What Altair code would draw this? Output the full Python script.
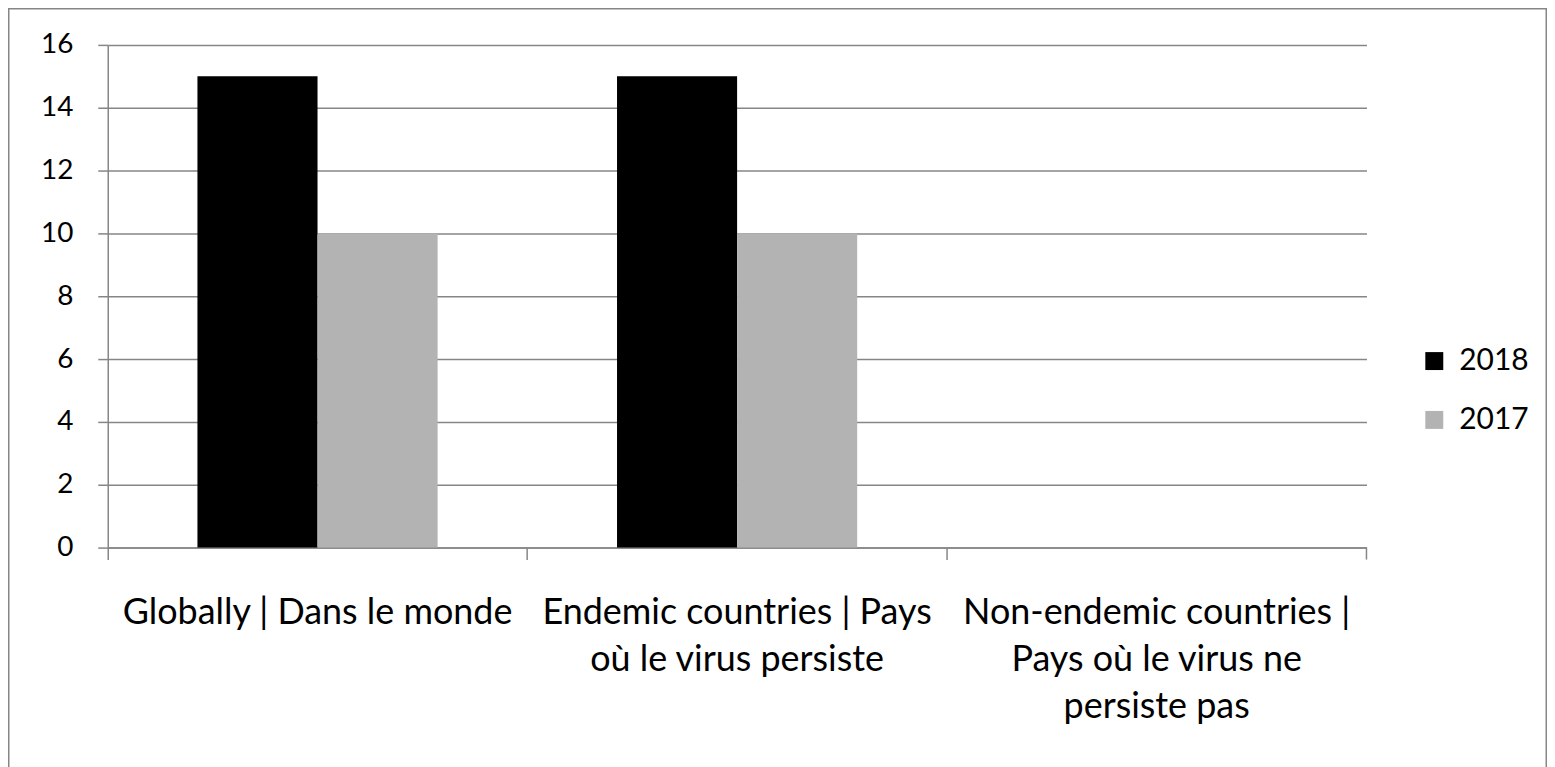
import json
import altair as alt
import pandas as pd

categories = [
    "Globally | Dans le monde",
    "Endemic countries | Pays où le virus persiste",
    "Non-endemic countries | Pays où le virus ne persiste pas",
]
label_lines = [
    ["Globally | Dans le monde"],
    ["Endemic countries | Pays", "où le virus persiste"],
    ["Non-endemic countries |", "Pays où le virus ne", "persiste pas"],
]
series = ["2018", "2017"]
values_2018 = [15, 15, 0]
values_2017 = [10, 10, 0]
colors = ["#000000", "#b3b3b3"]
y_ticks = [0, 2, 4, 6, 8, 10, 12, 14, 16]

rows = []
for c, a, b in zip(categories, values_2018, values_2017):
    rows.append({"category": c, "year": "2018", "value": a})
    rows.append({"category": c, "year": "2017", "value": b})
df = pd.DataFrame(rows)

W, H = 1262, 504
FONT = "Lato"
GRID = "#868686"
label_expr = json.dumps(dict(zip(categories, label_lines)), ensure_ascii=False) + "[datum.label]"

bars = alt.Chart(df).mark_bar().encode(
    x=alt.X(
        "category:N",
        sort=categories,
        scale=alt.Scale(paddingInner=0, paddingOuter=0),
        axis=alt.Axis(
            title=None, labelAngle=0, bandPosition=0,
            labelExpr=label_expr, labelFont=FONT, labelFontSize=36,
            labelColor="#000000", labelLineHeight=47, labelLimit=0,
            tickSize=12, tickColor=GRID, tickWidth=1.5,
            domainColor=GRID, domainWidth=1.5, labelPadding=36,
        ),
    ),
    xOffset=alt.XOffset(
        "year:N", sort=series, scale=alt.Scale(paddingInner=0, paddingOuter=0.747)
    ),
    y=alt.Y(
        "value:Q",
        scale=alt.Scale(domain=[0, 16]),
        axis=alt.Axis(
            values=y_ticks, title=None, grid=True, gridColor=GRID, gridWidth=1.5,
            tickSize=10, tickColor=GRID, tickWidth=1.5, domainColor=GRID,
            domainWidth=1.5, labelPadding=25, labelFont=FONT, labelFontSize=28,
            labelColor="#000000",
        ),
    ),
    color=alt.Color(
        "year:N",
        sort=series,
        scale=alt.Scale(domain=series, range=colors),
        legend=alt.Legend(
            title=None, orient="none", legendX=1315, legendY=302,
            symbolType="square", symbolSize=324, symbolStrokeWidth=0,
            labelFont=FONT, labelFontSize=30, labelColor="#000000",
            labelOffset=10, rowPadding=29,
        ),
    ),
)

frame = alt.Chart(pd.DataFrame({"a": [0]})).mark_rect(
    fillOpacity=0, stroke=GRID, strokeWidth=2
).encode(
    x=alt.value(-99.5), x2=alt.value(1442.5), y=alt.value(-36.5), y2=alt.value(740)
)

last_tick = alt.Chart(pd.DataFrame({"a": [0]})).mark_rule(
    color=GRID, strokeWidth=1.5
).encode(x=alt.value(W), y=alt.value(H), y2=alt.value(H + 12))

chart = alt.layer(frame, bars, last_tick).properties(
    width=W, height=H,
    autosize=alt.AutoSizeParams(type="none"),
    padding={"left": 100, "top": 36, "right": 181, "bottom": 219},
).configure_view(strokeWidth=0)

chart.save("out.html", embed_options={"renderer": "svg", "actions": False})
